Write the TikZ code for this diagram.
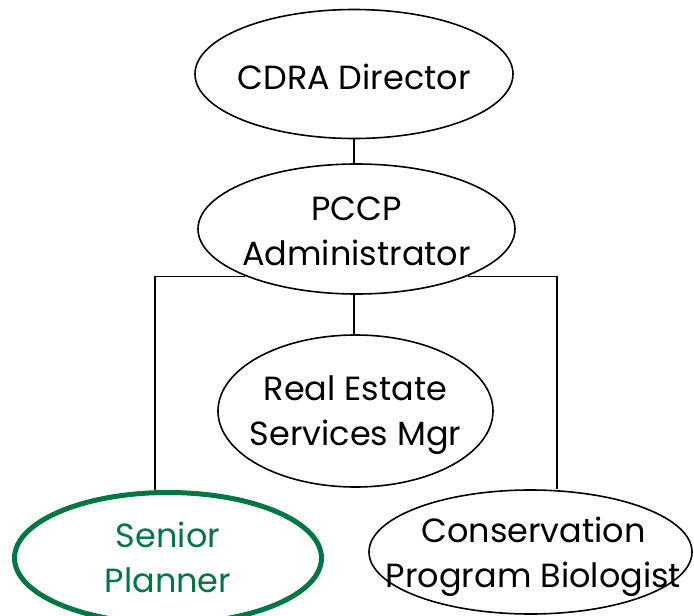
\documentclass[tikz,border=0pt]{standalone}
\usepackage{fontspec}
\setmainfont{Poppins}
\usetikzlibrary{shapes.geometric}
\definecolor{spgreen}{RGB}{0,118,68}
\tikzset{
  ell/.style={ellipse, draw=black, line width=1.6pt, inner sep=0pt, fill=white},
  txt/.style={align=center, font=\fontsize{33.5}{45}\selectfont, text=black, inner sep=0pt, yshift=-3pt},
  conn/.style={draw=black, line width=1.3pt},
}
\begin{document}
\begin{tikzpicture}[x=1pt,y=-1pt]
\useasboundingbox (0,0) rectangle (694,616);
\clip (0,0) rectangle (694,616);
\coordinate (spine) at (354,0);
\coordinate (lx) at (155,0);
\coordinate (rx) at (557,0);
\node[ell, minimum width=318pt, minimum height=129pt,
  label={[txt]center:CDRA Director}] (cdra) at (354,74) {};
\node[ell, minimum width=317pt, minimum height=130pt,
  label={[txt, yshift=1pt]center:PCCP\\Administrator}] (pccp) at (356.5,229) {};
\node[ell, minimum width=275pt, minimum height=152pt,
  label={[txt, yshift=-1pt]center:Real Estate\\Services Mgr}] (re) at (355.5,411) {};
\node[ell, draw=spgreen, line width=5pt, minimum width=307pt, minimum height=131pt,
  label={[txt, yshift=4pt, text=spgreen]center:Senior\\Planner}] (sp) at (168,558) {};
\node[ell, minimum width=323pt, minimum height=124pt,
  label={[txt, yshift=-2pt, xshift=3pt]center:Conservation\\Program Biologist}] (cpb) at (530.5,552) {};
\begin{scope}[on background layer/.try]
\path[conn] (spine |- cdra.south) -- (spine |- pccp.north);
\path[conn] (spine |- pccp.south) -- (spine |- re.north);
\path[conn] (pccp.203) -| (lx |- sp.north);
\path[conn] (pccp.-23) -| (rx |- cpb.north);
\end{scope}
\end{tikzpicture}
\end{document}
